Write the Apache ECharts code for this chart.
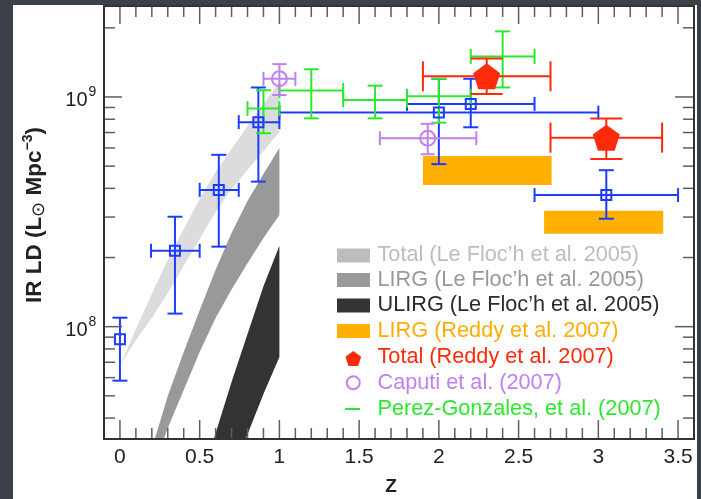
<!DOCTYPE html>
<html><head><meta charset="utf-8">
<script src="https://cdn.jsdelivr.net/npm/echarts@6/dist/echarts.min.js"></script>
<style>html,body{margin:0;padding:0;background:#3b4049}#c{width:701px;height:499px}</style>
</head><body><div id="c"></div>
<script>
const FONT = '"Liberation Sans", Arial, Helvetica, sans-serif';

// ---- axes ----
const xMin = -0.1, xMax = 3.6;
const yMin = 3.243e7, yMax = 2.489e9;
const xMajorTicks = [0, 0.5, 1, 1.5, 2, 2.5, 3, 3.5];
const xTickLabels = ['0', '0.5', '1', '1.5', '2', '2.5', '3', '3.5'];
const xMinorTicks = [0.1,0.2,0.3,0.4,0.6,0.7,0.8,0.9,1.1,1.2,1.3,1.4,1.6,1.7,1.8,1.9,2.1,2.2,2.3,2.4,2.6,2.7,2.8,2.9,3.1,3.2,3.3,3.4];
const yMajorTicks = [1e8, 1e9];
const yTickBase = ['10', '10'];
const yTickExponents = ['8', '9'];
const yMinorTicks = [4e7,5e7,6e7,7e7,8e7,9e7,2e8,3e8,4e8,5e8,6e8,7e8,8e8,9e8,2e9];
const xTitle = 'Z';

// ---- legend labels ----
const legendNames = [
  'Total (Le Floc\u2019h et al. 2005)',
  'LIRG (Le Floc\u2019h et al. 2005)',
  'ULIRG (Le Floc\u2019h et al. 2005)',
  'LIRG (Reddy et al. 2007)',
  'Total (Reddy et al. 2007)',
  'Caputi et al. (2007)',
  'Perez-Gonzales, et al. (2007)'
];

// ---- Le Floc'h bands ----
const totalUpperZ = [0, 0.1, 0.2, 0.3, 0.4, 0.5, 0.6, 0.7, 0.8, 0.9, 1.0];
const totalUpper  = [6.75e7, 9.77e7, 1.387e8, 1.95e8, 2.66e8, 3.60e8, 4.72e8, 5.94e8, 7.48e8, 9.31e8, 1.16e9];
const totalLowerZ = [0, 0.1, 0.2, 0.3, 0.4, 0.5, 0.6, 0.7, 0.8, 0.9, 1.0];
const totalLower  = [6.75e7, 8.75e7, 1.09e8, 1.40e8, 1.84e8, 2.40e8, 3.16e8, 3.97e8, 4.81e8, 5.82e8, 7.03e8];

const lirgUpperZ = [0.216, 0.3, 0.4, 0.5, 0.6, 0.7, 0.8, 0.9, 1.0];
const lirgUpper  = [3.2e7, 4.99e7, 7.76e7, 1.18e8, 1.77e8, 2.56e8, 3.52e8, 4.62e8, 6.0e8];
const lirgLowerZ = [0.272, 0.3, 0.4, 0.5, 0.6, 0.7, 0.8, 0.9, 1.0];
const lirgLower  = [3.2e7, 3.62e7, 5.30e7, 7.76e7, 1.09e8, 1.45e8, 1.89e8, 2.43e8, 3.06e8];

const ulirgUpperZ = [0.586, 0.7, 0.8, 0.9, 1.0];
const ulirgUpper  = [3.2e7, 5.74e7, 9.29e7, 1.50e8, 2.25e8];
const ulirgLowerZ = [0.785, 0.9, 1.0];
const ulirgLower  = [3.2e7, 5.09e7, 7.38e7];

// ---- Reddy LIRG boxes ----
const orangeZ0 = [1.9, 2.66];
const orangeZ1 = [2.707, 3.407];
const orangeLo = [4.14e8, 2.54e8];
const orangeHi = [5.53e8, 3.2e8];

// ---- blue squares ----
const blueZ   = [0, 0.345, 0.62, 0.868, 2.0, 2.2, 3.05];
const blueZlo = [0, 0.195, 0.5, 0.745, 1.0, 1.8, 2.6];
const blueZhi = [0, 0.5, 0.745, 1.0, 3.0, 2.6, 3.5];
const blueV   = [8.82e7, 2.14e8, 3.94e8, 7.77e8, 8.55e8, 9.33e8, 3.74e8];
const blueLo  = [5.82e7, 1.14e8, 2.23e8, 4.28e8, 5.1e8, 7.38e8, 2.95e8];
const blueHi  = [1.094e8, 3.01e8, 5.6e8, 1.1e9, 1.2e9, 1.2e9, 4.8e8];

// ---- Perez-Gonzalez (green) ----
const greenZ   = [0.9, 1.2, 1.6, 2.0, 2.4];
const greenZlo = [0.8, 1.0, 1.4, 1.8, 2.2];
const greenZhi = [1.0, 1.4, 1.8, 2.2, 2.6];
const greenV   = [8.9e8, 1.067e9, 9.7e8, 1.007e9, 1.5e9];
const greenLo  = [6.95e8, 8.07e8, 8.07e8, 7.73e8, 1.1e9];
const greenHi  = [1.07e9, 1.32e9, 1.12e9, 1.2e9, 1.93e9];

// ---- Reddy total (red) ----
const redZ   = [2.3, 3.05];
const redZlo = [1.9, 2.7];
const redZhi = [2.7, 3.4];
const redV   = [1.23e9, 6.65e8];
const redLo  = [1.03e9, 5.37e8];
const redHi  = [1.47e9, 8.05e8];

// ---- Caputi (purple) ----
const purpleZ   = [1.0, 1.93];
const purpleZlo = [0.9, 1.63];
const purpleZhi = [1.1, 2.235];
const purpleV   = [1.2e9, 6.61e8];
const purpleLo  = [1.02e9, 5.63e8];
const purpleHi  = [1.39e9, 7.64e8];

// ---- colours ----
const C = {
  totalBand: '#dcdcdc', totalKey: '#bdbdbd',
  lirg: '#999999', ulirg: '#333333', ulirgText: '#2b2b2b',
  orange: '#ffb000', orangeText: '#ffad00',
  red: '#ff2a0a', purple: '#c080f0', green: '#2ee82e', blue: '#1e3cff',
  tick: '#5e5e5e', text: '#222222'
};

function bandSeries(name, upZ, up, loZ, lo, color) {
  const pts = upZ.map((z, i) => [z, up[i]]).concat(loZ.map((z, i) => [z, lo[i]]).reverse());
  return {
    type: 'custom', name, z: 1, clip: true, silent: true,
    data: pts, encode: { x: 0, y: 1 },
    renderItem(params, api) {
      if (params.dataIndex !== 0) return { type: 'group', children: [] };
      return { type: 'polygon', shape: { points: pts.map(p => api.coord(p)) }, style: { fill: color } };
    }
  };
}

function errSeries(name, zs, zlo, zhi, vs, vlo, vhi, color, capW, capH) {
  return {
    type: 'custom', name, z: 4, silent: true, clip: false,
    data: zs.map((z, i) => [z, vs[i], zlo[i], zhi[i], vlo[i], vhi[i]]),
    encode: { x: [0, 2, 3], y: [1, 4, 5] },
    renderItem(params, api) {
      const c = api.coord([api.value(0), api.value(1)]);
      const l = api.coord([api.value(2), api.value(1)]);
      const r = api.coord([api.value(3), api.value(1)]);
      const b = api.coord([api.value(0), api.value(4)]);
      const t = api.coord([api.value(0), api.value(5)]);
      const st = { stroke: color, lineWidth: 2, fill: null };
      const ch = [];
      if (r[0] - l[0] > 0.5) {
        ch.push({ type: 'line', shape: { x1: l[0], y1: c[1], x2: r[0], y2: c[1] }, style: st });
        ch.push({ type: 'line', shape: { x1: l[0], y1: c[1] - capH / 2, x2: l[0], y2: c[1] + capH / 2 }, style: st });
        ch.push({ type: 'line', shape: { x1: r[0], y1: c[1] - capH / 2, x2: r[0], y2: c[1] + capH / 2 }, style: st });
      }
      ch.push({ type: 'line', shape: { x1: c[0], y1: b[1], x2: c[0], y2: t[1] }, style: st });
      ch.push({ type: 'line', shape: { x1: c[0] - capW / 2, y1: b[1], x2: c[0] + capW / 2, y2: b[1] }, style: st });
      ch.push({ type: 'line', shape: { x1: c[0] - capW / 2, y1: t[1], x2: c[0] + capW / 2, y2: t[1] }, style: st });
      return { type: 'group', children: ch };
    }
  };
}

const pentagon = 'path://M50,0 L97.55,34.55 L79.39,90.45 L20.61,90.45 L2.45,34.55 Z';
const tickStyle = { stroke: C.tick, lineWidth: 1.5 };

const series = [
  bandSeries(legendNames[0], totalUpperZ, totalUpper, totalLowerZ, totalLower, C.totalBand),
  bandSeries(legendNames[1], lirgUpperZ, lirgUpper, lirgLowerZ, lirgLower, C.lirg),
  bandSeries(legendNames[2], ulirgUpperZ, ulirgUpper, ulirgLowerZ, ulirgLower, C.ulirg),
  {
    type: 'custom', name: legendNames[3], z: 2, silent: true,
    data: orangeZ0.map((z, i) => [z, orangeLo[i], orangeZ1[i], orangeHi[i]]),
    encode: { x: [0, 2], y: [1, 3] },
    renderItem(params, api) {
      const a = api.coord([api.value(0), api.value(3)]);
      const b = api.coord([api.value(2), api.value(1)]);
      return { type: 'rect', shape: { x: a[0], y: a[1], width: b[0] - a[0], height: b[1] - a[1] }, style: { fill: C.orange } };
    }
  },
  errSeries('blueErr', blueZ, blueZlo, blueZhi, blueV, blueLo, blueHi, C.blue, 15, 14),
  errSeries('greenErr', greenZ, greenZlo, greenZhi, greenV, greenLo, greenHi, C.green, 15, 15),
  errSeries('purpleErr', purpleZ, purpleZlo, purpleZhi, purpleV, purpleLo, purpleHi, C.purple, 14, 14),
  errSeries('redErr', redZ, redZlo, redZhi, redV, redLo, redHi, C.red, 32, 30),
  {
    type: 'scatter', name: 'blue', z: 5, silent: true,
    data: blueZ.map((z, i) => [z, blueV[i]]),
    symbol: 'rect', symbolSize: 10,
    itemStyle: { color: 'rgba(0,0,0,0)', borderColor: C.blue, borderWidth: 2, opacity: 1 }
  },
  {
    type: 'scatter', name: legendNames[5], z: 5, silent: true,
    data: purpleZ.map((z, i) => [z, purpleV[i]]),
    symbol: 'circle', symbolSize: 15,
    itemStyle: { color: 'rgba(0,0,0,0)', borderColor: C.purple, borderWidth: 2, opacity: 1 }
  },
  {
    type: 'scatter', name: legendNames[4], z: 5, silent: true,
    data: redZ.map((z, i) => [z, redV[i]]),
    symbol: pentagon, symbolSize: [27, 26],
    itemStyle: { color: C.red, opacity: 1 }
  },
  // ticks
  {
    type: 'custom', name: 'xMajor', z: 6, silent: true, clip: false,
    data: xMajorTicks.map((v, i) => [v, 1e8, i]), encode: { x: 0, y: 1 },
    renderItem(params, api) {
      const cs = params.coordSys;
      const px = api.coord([api.value(0), 1e8])[0];
      const bot = cs.y + cs.height, top = cs.y;
      return { type: 'group', children: [
        { type: 'line', shape: { x1: px, y1: bot, x2: px, y2: bot - 19 }, style: tickStyle },
        { type: 'line', shape: { x1: px, y1: top, x2: px, y2: top + 18 }, style: tickStyle },
        { type: 'text', x: px, y: bot + 18, style: { text: xTickLabels[api.value(2)], fontSize: 21, fontFamily: FONT, fill: C.text, align: 'center', verticalAlign: 'middle' } }
      ] };
    }
  },
  {
    type: 'custom', name: 'xMinor', z: 6, silent: true, clip: false,
    data: xMinorTicks.map(v => [v, 1e8]), encode: { x: 0, y: 1 },
    renderItem(params, api) {
      const cs = params.coordSys;
      const px = api.coord([api.value(0), 1e8])[0];
      const bot = cs.y + cs.height, top = cs.y;
      return { type: 'group', children: [
        { type: 'line', shape: { x1: px, y1: bot, x2: px, y2: bot - 11 }, style: tickStyle },
        { type: 'line', shape: { x1: px, y1: top, x2: px, y2: top + 11 }, style: tickStyle }
      ] };
    }
  },
  {
    type: 'custom', name: 'yMajor', z: 6, silent: true, clip: false,
    data: yMajorTicks.map((v, i) => [1, v, i]), encode: { x: 0, y: 1 },
    renderItem(params, api) {
      const cs = params.coordSys;
      const py = api.coord([1, api.value(1)])[1];
      const left = cs.x, right = cs.x + cs.width;
      const i = api.value(2);
      return { type: 'group', children: [
        { type: 'line', shape: { x1: left, y1: py, x2: left + 18, y2: py }, style: tickStyle },
        { type: 'line', shape: { x1: right, y1: py, x2: right - 19, y2: py }, style: tickStyle },
        { type: 'text', x: left - 16.5, y: py + 4, style: { text: yTickBase[i], fontSize: 20, fontFamily: FONT, fill: C.text, align: 'right', verticalAlign: 'middle' } },
        { type: 'text', x: left - 15.5, y: py - 4.5, style: { text: yTickExponents[i], fontSize: 14, fontFamily: FONT, fill: C.text, align: 'left', verticalAlign: 'middle' } }
      ] };
    }
  },
  {
    type: 'custom', name: 'yMinor', z: 6, silent: true, clip: false,
    data: yMinorTicks.map(v => [1, v]), encode: { x: 0, y: 1 },
    renderItem(params, api) {
      const cs = params.coordSys;
      const py = api.coord([1, api.value(1)])[1];
      const left = cs.x, right = cs.x + cs.width;
      return { type: 'group', children: [
        { type: 'line', shape: { x1: left, y1: py, x2: left + 11, y2: py }, style: tickStyle },
        { type: 'line', shape: { x1: right, y1: py, x2: right - 11, y2: py }, style: tickStyle }
      ] };
    }
  }
];

// legend (drawn as graphics)
const legendRows = [255.5, 280, 305.5, 331, 357, 382.7, 409];
const legendColors = [C.totalKey, C.lirg, C.ulirgText, C.orangeText, C.red, C.purple, C.green];
const legendGraphics = [];
const rectFills = [C.totalKey, C.lirg, C.ulirg, C.orange];
rectFills.forEach((f, i) => legendGraphics.push({ type: 'rect', z: 20, shape: { x: 337, y: legendRows[i] - 7, width: 33, height: 14 }, style: { fill: f } }));
(function () {
  const cx = 353.3, cy = legendRows[4] + 1.5, w = 16.5, h = 15;
  const P = [[0.5,0],[0.9755,0.3455],[0.7939,0.9045],[0.2061,0.9045],[0.0245,0.3455]];
  legendGraphics.push({ type: 'polygon', z: 20, shape: { points: P.map(p => [cx - w / 2 + p[0] * w, cy - h / 2 + p[1] * h / 0.9045]) }, style: { fill: C.red } });
})();
legendGraphics.push({ type: 'circle', z: 20, shape: { cx: 353.3, cy: legendRows[5], r: 6.5 }, style: { fill: null, stroke: C.purple, lineWidth: 2 } });
legendGraphics.push({ type: 'line', z: 20, shape: { x1: 345, y1: legendRows[6], x2: 360, y2: legendRows[6] }, style: { stroke: C.green, lineWidth: 2 } });
legendNames.forEach((n, i) => legendGraphics.push({ type: 'text', z: 20, x: 377.5, y: legendRows[i], style: { text: n, fontSize: 21.7, fontFamily: FONT, fill: legendColors[i], align: 'left', verticalAlign: 'middle' } }));

const chart = echarts.init(document.getElementById('c'), null, { renderer: 'canvas' });
chart.setOption({
  animation: false,
  backgroundColor: '#3b4049',
  grid: { left: 104, right: 7, top: 6, bottom: 60, show: true, z: 10, borderColor: '#333', borderWidth: 2, backgroundColor: 'rgba(0,0,0,0)', containLabel: false, outerBoundsMode: 'none' },
  xAxis: { type: 'value', min: xMin, max: xMax, show: false },
  yAxis: { type: 'log', logBase: 10, min: yMin, max: yMax, show: false },
  graphic: [
    { type: 'rect', z: -100, shape: { x: 13, y: 5, width: 684, height: 494 }, style: { fill: '#ffffff' } },
    { type: 'text', z: 20, x: 391, y: 486.5, style: { text: xTitle, fontSize: 19, fontWeight: 'bold', fontFamily: FONT, fill: C.text, align: 'center', verticalAlign: 'middle' } },
    { type: 'text', z: 20, x: 35, y: 215, rotation: Math.PI / 2,
      style: {
        text: '{b|IR LD (L}{sub|\u2299}{b| Mpc}{sup|\u22123}{b|)}',
        align: 'center', verticalAlign: 'middle', fill: C.text,
        rich: {
          b: { fontSize: 22.5, fontWeight: 'bold', fontFamily: FONT, fill: C.text, lineHeight: 27, verticalAlign: 'middle' },
          sub: { fontSize: 18, fontFamily: FONT, fill: C.text, verticalAlign: 'bottom' },
          sup: { fontSize: 14, fontWeight: 'bold', fontFamily: FONT, fill: C.text, verticalAlign: 'top' }
        }
      } }
  ].concat(legendGraphics),
  series
});
</script></body></html>
